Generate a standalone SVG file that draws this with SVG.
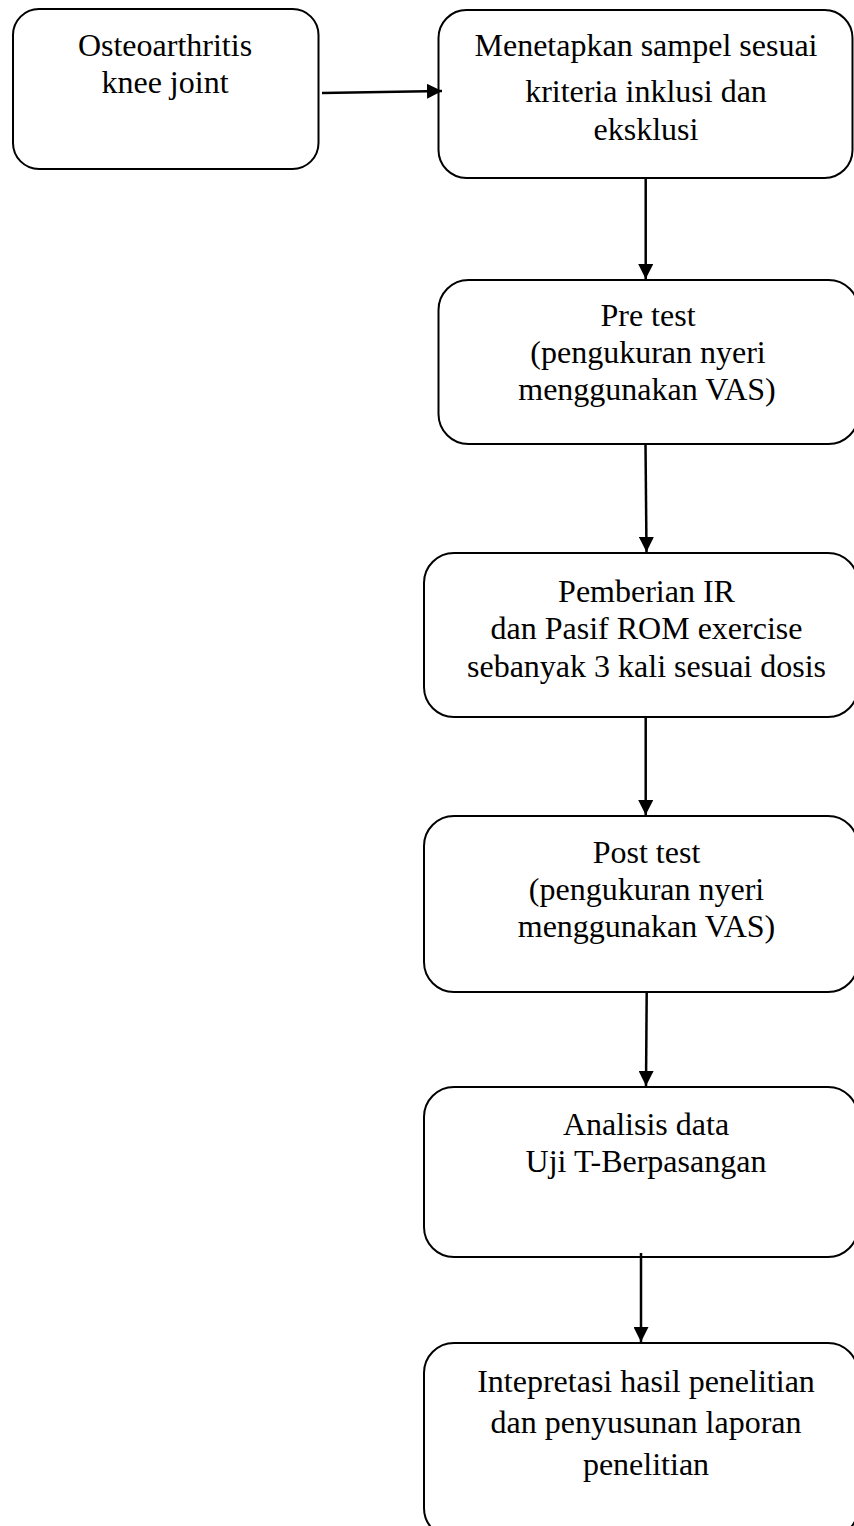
<svg xmlns="http://www.w3.org/2000/svg" width="854" height="1526" viewBox="0 0 854 1526">
<style>
.box{fill:#fff;stroke:#000;stroke-width:2}
.t{font-family:"Liberation Serif","Times New Roman",serif;font-size:32px;fill:#000;text-anchor:middle}
.c{stroke:#000;stroke-width:2.5;fill:none}
</style>
<defs>
<marker id="ah" viewBox="0 0 10 10" refX="10" refY="5" markerWidth="15" markerHeight="15" markerUnits="userSpaceOnUse" orient="auto">
<path d="M0,0 L10,5 L0,10 Z" fill="#000"/>
</marker>
</defs>
<rect width="854" height="1526" fill="#fff"/>
<g id="node1">
<rect class="box" x="13" y="9" width="305.5" height="160" rx="26"/>
<text class="t" x="165" y="56">Osteoarthritis</text>
<text class="t" x="165" y="93">knee joint</text>
</g>
<g id="node2">
<rect class="box" x="438.5" y="10" width="414" height="168" rx="28"/>
<text class="t" x="646" y="56">Menetapkan sampel sesuai</text>
<text class="t" x="646" y="102">kriteria inklusi dan</text>
<text class="t" x="646" y="140">eksklusi</text>
</g>
<g id="node3">
<rect class="box" x="438.5" y="280" width="420" height="164" rx="30"/>
<text class="t" x="648" y="326">Pre test</text>
<text class="t" x="648" y="363"> (pengukuran nyeri</text>
<text class="t" x="647" y="400">menggunakan VAS)</text>
</g>
<g id="node4">
<rect class="box" x="424" y="553" width="434" height="164" rx="30"/>
<text class="t" x="646.5" y="601.5">Pemberian IR</text>
<text class="t" x="646.5" y="639"> dan Pasif ROM exercise</text>
<text class="t" x="646.5" y="676.5">sebanyak 3 kali sesuai dosis</text>
</g>
<g id="node5">
<rect class="box" x="424" y="816" width="434" height="176" rx="30"/>
<text class="t" x="646.5" y="863">Post test</text>
<text class="t" x="646.5" y="900">(pengukuran nyeri</text>
<text class="t" x="646.5" y="936.5">menggunakan VAS)</text>
</g>
<g id="node6">
<rect class="box" x="424" y="1087" width="434" height="170" rx="30"/>
<text class="t" x="646" y="1135">Analisis data</text>
<text class="t" x="646" y="1171.5">Uji T-Berpasangan</text>
</g>
<g id="node7">
<rect class="box" x="424" y="1343" width="434" height="195" rx="30"/>
<text class="t" x="646" y="1391.5">Intepretasi hasil penelitian</text>
<text class="t" x="646" y="1433">dan penyusunan laporan</text>
<text class="t" x="646" y="1475">penelitian</text>
</g>
<g id="connectors">
<line class="c" x1="322" y1="93" x2="442" y2="91" marker-end="url(#ah)"/>
<line class="c" x1="645.7" y1="178" x2="645.7" y2="279" marker-end="url(#ah)"/>
<line class="c" x1="645.5" y1="444" x2="646.5" y2="552" marker-end="url(#ah)"/>
<line class="c" x1="645.7" y1="717" x2="645.7" y2="815" marker-end="url(#ah)"/>
<line class="c" x1="646.7" y1="992" x2="646" y2="1086" marker-end="url(#ah)"/>
<line class="c" x1="641" y1="1253" x2="641" y2="1342" marker-end="url(#ah)"/>
</g>
</svg>
